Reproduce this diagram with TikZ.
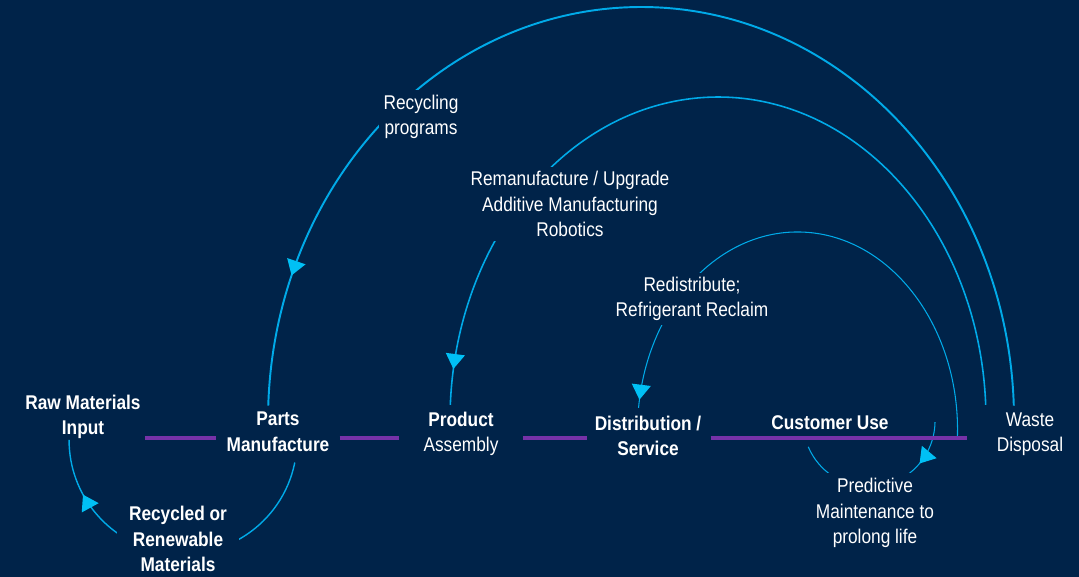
\documentclass[tikz,border=0pt]{standalone}
\usepackage{fontspec}
\setmainfont[FakeStretch=0.87]{Liberation Sans}
\usetikzlibrary{arrows.meta,decorations.markings}
\definecolor{navy}{RGB}{0,35,73}
\definecolor{loopline}{RGB}{0,170,232}
\definecolor{looptip}{RGB}{0,192,245}
\definecolor{stage}{RGB}{118,50,168}
\newcommand{\dgmsize}{\fontsize{11.3}{14.5}\selectfont}
\tikzset{
  stagebox/.style={text=white,font=\dgmsize\bfseries,align=center,inner sep=0.06cm},
  note/.style={text=white,font=\dgmsize,align=center,inner sep=0.06cm},
  notecut/.style={note,fill=navy,inner sep=#1},
  stageline/.style={stage,line width=2pt},
  cycleline/.style={loopline,line width=#1},
  tipat/.style={postaction={decorate},decoration={markings,
    mark=at position #1 with {\arrow[looptip]{Triangle[length=0.3cm,width=0.38cm]}}}}
}
\begin{document}
\begin{tikzpicture}[x=0.02cm,y=0.02cm]
\useasboundingbox (0,0) rectangle (1079,576);
\fill[navy] (-5,-5) rectangle (1084,581);

\coordinate (axis) at (0,138);
\coordinate (custend) at (967,138);
\coordinate (wasteout) at (1013.8,170.4);
\coordinate (wasteback) at (985.7,171.2);
\coordinate (custout) at (957.4,138.1);
\coordinate (partsout) at (294.8,113.5);
\coordinate (custloop) at (935,153.8);

\draw[cycleline=1.1pt,tipat=0.89] (wasteout) arc[start angle=2,end angle=178,x radius=373,y radius=413];
\draw[cycleline=0.9pt,tipat=0.96] (wasteback) arc[start angle=2.7,end angle=177.3,x radius=268,y radius=323];
\draw[cycleline=0.6pt,tipat=0.985] (custout) arc[start angle=-2.3,end angle=173.6,x radius=160,y radius=198];
\draw[cycleline=0.8pt,tipat=0.83] (partsout) arc[start angle=-11.4,end angle=-180,radius=114];
\draw[cycleline=0.6pt,tipat=0.25] (custloop) arc[start angle=-1,end angle=-157,radius=66];

\node (raw) [stagebox] at (83,159) {Raw Materials\\Input};
\node (parts) [stagebox] at (278,144) {Parts\\Manufacture};
\node (product) [stagebox] at (461,142) {Product\\\mdseries Assembly};
\node (dist) [stagebox] at (648,140) {Distribution /\\Service};
\node (cust) [stagebox] at (830,153) {Customer Use};
\node (waste) [note] at (1030,142) {Waste\\Disposal};

\node (recycled) [stagebox,fill=navy,inner xsep=0.24cm,inner ysep=0.02cm] at (178,37) {Recycled or\\Renewable\\Materials};
\node (predict) [notecut=0.1cm] at (875,63) {Predictive\\Maintenance to\\prolong life};
\node (recprog) [notecut=0.1cm] at (421,459) {Recycling\\programs};
\node (reman) [notecut=0.08cm] at (570,372) {Remanufacture / Upgrade\\Additive Manufacturing\\Robotics};
\node (redist) [notecut=0.08cm] at (692,277) {Redistribute;\\Refrigerant Reclaim};

\draw[stageline,shorten <=0.02cm,shorten >=0.14cm] (raw.east |- axis) -- (parts.west |- axis);
\draw[stageline,shorten <=0.14cm,shorten >=0.42cm] (parts.east |- axis) -- (product.west |- axis);
\draw[stageline,shorten <=0.42cm,shorten >=0.08cm] (product.east |- axis) -- (dist.west |- axis);
\draw[stageline,shorten <=0.12cm] (dist.east |- axis) -- (custend);
\end{tikzpicture}
\end{document}
